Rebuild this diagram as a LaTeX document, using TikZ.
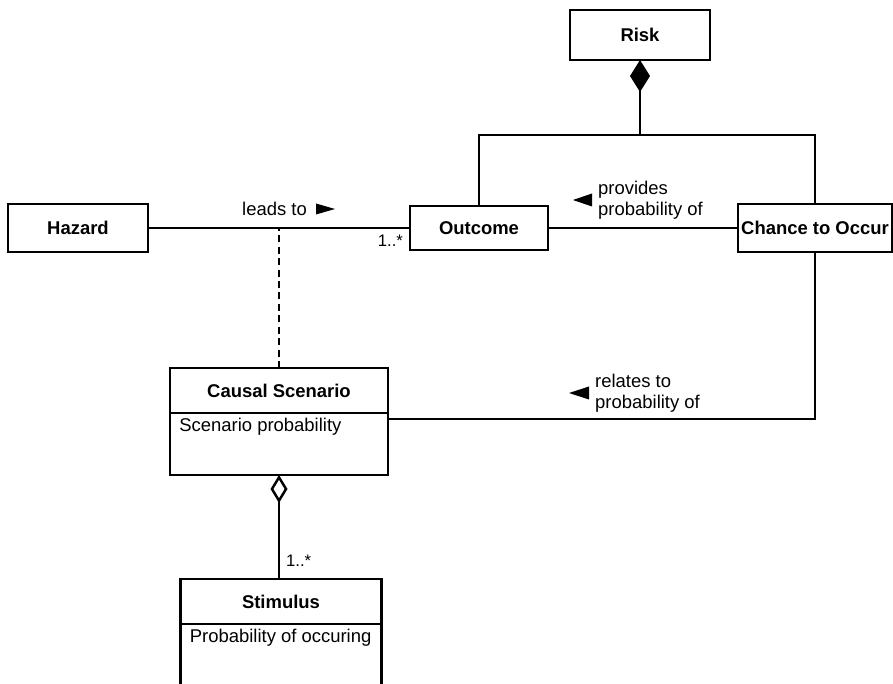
\documentclass[tikz,border=0pt]{standalone}
\usepackage{fontspec}
\setmainfont{Liberation Sans}
\usetikzlibrary{arrows.meta,positioning}
\tikzset{
  classbox/.style={draw, line width=1.5pt, inner sep=1pt, outer sep=0pt, font=\fontsize{10.5}{12.5}\selectfont\bfseries},
  attrbox/.style={draw, line width=1.5pt, inner sep=0pt, outer sep=0pt, anchor=north},
  attrtext/.style={anchor=north west, inner xsep=1.8mm, inner ysep=3pt, font=\fontsize{10.5}{12.5}\selectfont},
  assoc/.style={line width=1.4pt},
  dashline/.style={line width=0.8pt, dash pattern=on 4pt off 2.5pt},
  lbl/.style={align=left, font=\fontsize{10.5}{12}\selectfont},
  mult/.style={font=\fontsize{9.5}{10}\selectfont},
}

\begin{document}
\begin{tikzpicture}[x=0.2mm, y=-0.2mm]
	\useasboundingbox (0,0) rectangle (893,684);
	% classes
	\node[classbox, minimum width=28mm, minimum height=10mm] (risk) at (640,35) {Risk};
	\node[classbox, minimum width=28mm, minimum height=9.6mm] (hazard) at (78,228) {Hazard};
	\node[classbox, minimum width=27.6mm, minimum height=8.8mm] (outcome) at (479,228) {Outcome};
	\node[classbox, minimum width=30.8mm, minimum height=9.6mm] (chance) at (815,228) {Chance to Occur};
	\node[classbox, minimum width=43.6mm, minimum height=9mm] (cs) at (279,390.5) {Causal Scenario};
	\node[attrbox, minimum width=43.6mm, minimum height=12.4mm, below=0pt of cs,
		label={[attrtext]north west:Scenario probability}] (csattr) {};
	\node[classbox, minimum width=40.2mm, minimum height=9mm] (stim) at (281,601.5) {Stimulus};
	\node[attrbox, draw=none, minimum width=40.2mm, minimum height=12mm, below=0pt of stim,
		label={[attrtext]north west:Probability of occuring}] (stimattr) {};
	% stimulus body runs off the bottom edge
	\draw[attrbox] (stimattr.south west) -- (stimattr.north west) -- (stimattr.north east) -- (stimattr.south east);
	\draw[attrbox] (stim.south west) -- (stim.south east);
	% composition of risk
	\coordinate (junc) at (640,135);
	\draw[assoc, {Diamond[length=6.4mm, width=4mm]}-] (risk.south) -- (junc);
	\draw[assoc] (outcome.north) |- (junc) -| (chance.north);
	% associations
	\draw[assoc] (hazard.east) -- node[mult, pos=1, below left] {1..*} (outcome.west);
	\draw[assoc] (outcome.east) -- (chance.west);
	\draw[assoc] (chance.south) |- ([yshift=-1.2mm]csattr.north east);
	\draw[dashline] (cs.north) -- (cs.north |- hazard.east);
	\draw[assoc, {Diamond[open, length=5.6mm, width=3.4mm]}-] (csattr.south) -- node[mult, pos=.82, right] {1..*} (csattr.south |- stim.north);
	% association names
	\node[lbl, anchor=east] (leadlbl) at (313,209) {leads to};
	\fill ([xshift=0.6mm]leadlbl.east) ++(0,1.1mm) -- ++(0,-2.2mm) -- ++(3.8mm,1.1mm) -- cycle;
	\node[lbl, anchor=west] (provlbl) at (592,200) {provides\\probability of};
	\fill (provlbl.west) ++(0,1.3mm) -- ++(0,-2.6mm) -- ++(-3.8mm,1.3mm) -- cycle;
	\node[lbl, anchor=west] (rellbl) at (589,393) {relates to\\probability of};
	\fill (rellbl.west) ++(0,1.3mm) -- ++(0,-2.6mm) -- ++(-4mm,1.3mm) -- cycle;
\end{tikzpicture}
\end{document}
